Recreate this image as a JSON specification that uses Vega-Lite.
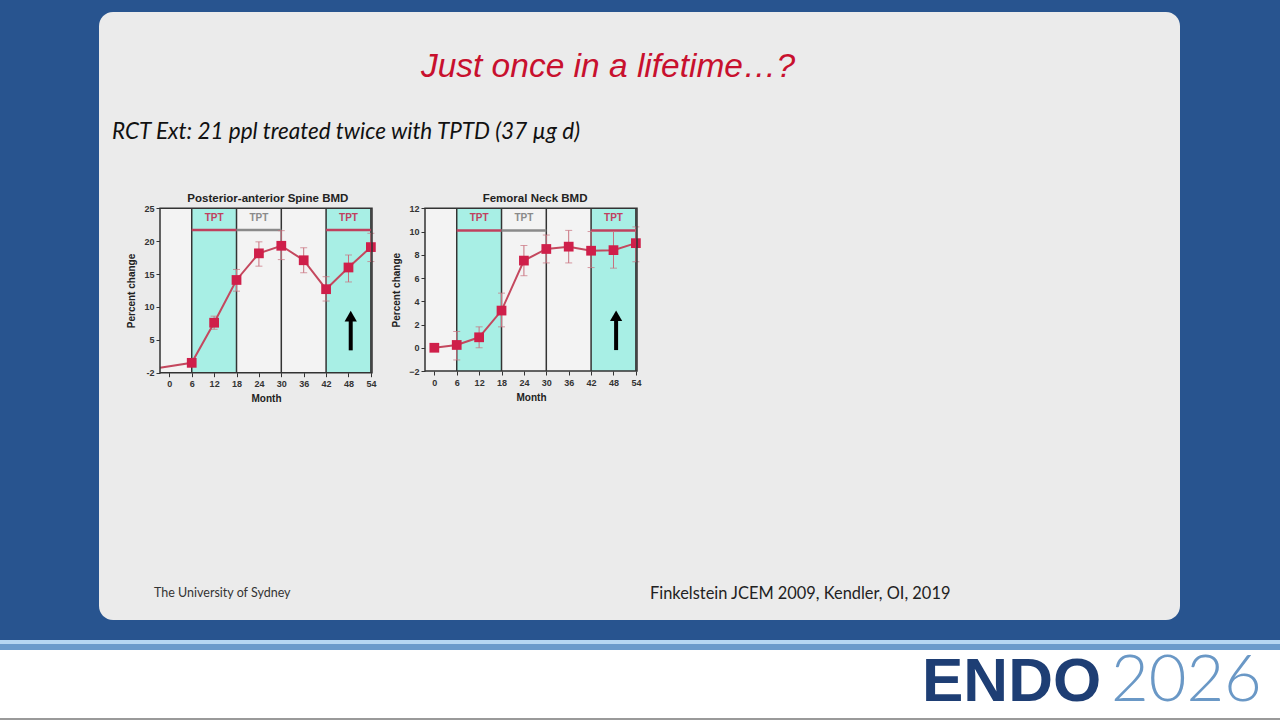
{
  "$schema": "https://vega.github.io/schema/vega-lite/v6.json",
  "width": 1081,
  "height": 608,
  "autosize": {"type": "none"},
  "padding": {"left": 99, "top": 12, "right": 100, "bottom": 100},
  "background": "#28548f",
  "view": {"fill": "#ebebeb", "stroke": null, "cornerRadius": 14},
  "data": {"values": [{}]},
  "datasets": {
    "spine": [
      {"month": -2.5, "pct": 0.75, "lo": null, "hi": null},
      {"month": 6, "pct": 1.5, "lo": null, "hi": null},
      {"month": 12, "pct": 7.6, "lo": 6.6, "hi": 8.6},
      {"month": 18, "pct": 14.1, "lo": 12.4, "hi": 15.7},
      {"month": 24, "pct": 18.15, "lo": 16.2, "hi": 19.9},
      {"month": 30, "pct": 19.3, "lo": 17.2, "hi": 21.6},
      {"month": 36, "pct": 17.1, "lo": 15.2, "hi": 19.0},
      {"month": 42, "pct": 12.7, "lo": 10.9, "hi": 14.6},
      {"month": 48, "pct": 16.0, "lo": 13.8, "hi": 17.9},
      {"month": 54, "pct": 19.1, "lo": 16.9, "hi": 21.2}
    ],
    "femoral": [
      {"month": 0, "pct": 0.0, "lo": null, "hi": null},
      {"month": 6, "pct": 0.24, "lo": -1.05, "hi": 1.4},
      {"month": 12, "pct": 0.9, "lo": 0.0, "hi": 1.8},
      {"month": 18, "pct": 3.2, "lo": 1.8, "hi": 4.7},
      {"month": 24, "pct": 7.5, "lo": 6.2, "hi": 8.8},
      {"month": 30, "pct": 8.5, "lo": 7.3, "hi": 9.7},
      {"month": 36, "pct": 8.7, "lo": 7.3, "hi": 10.1},
      {"month": 42, "pct": 8.35, "lo": 6.9, "hi": 10.0},
      {"month": 48, "pct": 8.4, "lo": 6.85, "hi": 10.0},
      {"month": 54, "pct": 9.0, "lo": 7.4, "hi": 10.4}
    ],
    "periods": [
      {"start": 6, "end": 18, "mid": 12, "label": "TPT", "course": "on"},
      {"start": 18, "end": 30, "mid": 24, "label": "TPT", "course": "off"},
      {"start": 42, "end": 54, "mid": 48, "label": "TPT", "course": "on"}
    ],
    "bounds": [{"month": 6}, {"month": 18}, {"month": 30}, {"month": 42}, {"month": 54}],
    "spineArrow": [{"month": 48.6, "tail": 3.4, "head": 8.6}],
    "femoralArrow": [{"month": 48.7, "tail": -0.2, "head": 2.75}]
  },
  "layer": [
    {"mark": {"type": "rect", "color": "#b6d7f2"},
     "encoding": {"x": {"value": -99}, "x2": {"value": 1181}, "y": {"value": 628}, "y2": {"value": 632}}},
    {"mark": {"type": "rect", "color": "#6b9bcb"},
     "encoding": {"x": {"value": -99}, "x2": {"value": 1181}, "y": {"value": 632}, "y2": {"value": 638}}},
    {"mark": {"type": "rect", "color": "#ffffff"},
     "encoding": {"x": {"value": -99}, "x2": {"value": 1181}, "y": {"value": 638}, "y2": {"value": 706}}},
    {"mark": {"type": "rect", "color": "#9a9a9a"},
     "encoding": {"x": {"value": -99}, "x2": {"value": 1181}, "y": {"value": 706}, "y2": {"value": 708}}},
    {
      "layer": [
        {"mark": {"type": "rect", "fill": "#f3f3f3"},
         "encoding": {
           "x": {"datum": -2.5, "type": "quantitative",
                 "scale": {"domain": [-2.5, 54.3], "range": [61, 273], "nice": false, "zero": false},
                 "axis": {"orient": "bottom", "offset": -247.3, "values": [0, 6, 12, 18, 24, 30, 36, 42, 48, 54], "title": "Month", "labelPadding": 3, "titlePadding": 5}},
           "x2": {"datum": 54.3},
           "y": {"datum": 0, "type": "quantitative",
                 "scale": {"domain": [0, 25], "range": [360.7, 196.3], "nice": false, "zero": false},
                 "axis": {"orient": "left", "offset": -61, "values": [0, 5, 10, 15, 20, 25], "labelExpr": "datum.value == 0 ? '-2' : datum.label", "title": "Percent change", "labelPadding": 2, "titlePadding": 7}},
           "y2": {"datum": 25}
         }},
        {"data": {"name": "periods"}, "transform": [{"filter": "datum.course == 'on'"}],
         "mark": {"type": "rect", "fill": "#a8efe5"},
         "encoding": {
           "x": {"field": "start", "type": "quantitative"},
           "x2": {"field": "end"},
           "y": {"datum": 0, "type": "quantitative"},
           "y2": {"datum": 25}
         }},
        {"data": {"name": "bounds"},
         "mark": {"type": "rule", "color": "#333333", "strokeWidth": 1.5},
         "encoding": {
           "x": {"field": "month", "type": "quantitative"},
           "y": {"datum": 0, "type": "quantitative"},
           "y2": {"datum": 25}
         }},
        {"data": {"name": "periods"},
         "mark": {"type": "rule", "strokeWidth": 2.5},
         "encoding": {
           "x": {"field": "start", "type": "quantitative"},
           "x2": {"field": "end"},
           "y": {"datum": 21.7, "type": "quantitative"},
           "color": {"field": "course", "type": "nominal", "scale": {"domain": ["on", "off"], "range": ["#c0405e", "#8a8a8a"]}, "legend": null}
         }},
        {"data": {"name": "periods"},
         "mark": {"type": "text", "fontWeight": "bold", "fontSize": 10, "baseline": "middle"},
         "encoding": {
           "x": {"field": "mid", "type": "quantitative"},
           "y": {"datum": 23.5, "type": "quantitative"},
           "text": {"field": "label"},
           "color": {"field": "course", "type": "nominal", "scale": {"domain": ["on", "off"], "range": ["#c0405e", "#8a8a8a"]}, "legend": null}
         }},
        {"data": {"name": "spine"}, "transform": [{"filter": "datum.lo != null"}],
         "mark": {"type": "rule", "color": "#c9707e", "strokeWidth": 1},
         "encoding": {
           "x": {"field": "month", "type": "quantitative"},
           "y": {"field": "lo", "type": "quantitative"},
           "y2": {"field": "hi"}
         }},
        {"data": {"name": "spine"}, "transform": [{"filter": "datum.lo != null"}],
         "mark": {"type": "tick", "orient": "horizontal", "size": 7, "thickness": 1, "color": "#c9707e"},
         "encoding": {
           "x": {"field": "month", "type": "quantitative"},
           "y": {"field": "lo", "type": "quantitative"}
         }},
        {"data": {"name": "spine"}, "transform": [{"filter": "datum.lo != null"}],
         "mark": {"type": "tick", "orient": "horizontal", "size": 7, "thickness": 1, "color": "#c9707e"},
         "encoding": {
           "x": {"field": "month", "type": "quantitative"},
           "y": {"field": "hi", "type": "quantitative"}
         }},
        {"data": {"name": "spine"},
         "mark": {"type": "line", "color": "#c4485e", "strokeWidth": 2},
         "encoding": {
           "x": {"field": "month", "type": "quantitative"},
           "y": {"field": "pct", "type": "quantitative"}
         }},
        {"data": {"name": "spine"}, "transform": [{"filter": "datum.month >= 0"}],
         "mark": {"type": "point", "shape": "square", "filled": true, "size": 95, "color": "#cf1f4a", "opacity": 1},
         "encoding": {
           "x": {"field": "month", "type": "quantitative"},
           "y": {"field": "pct", "type": "quantitative"}
         }},
        {"data": {"name": "spineArrow"},
         "mark": {"type": "rule", "color": "#000000", "strokeWidth": 4},
         "encoding": {
           "x": {"field": "month", "type": "quantitative"},
           "y": {"field": "tail", "type": "quantitative"},
           "y2": {"field": "head"}
         }},
        {"data": {"name": "spineArrow"},
         "mark": {"type": "point", "shape": "triangle-up", "filled": true, "size": 150, "color": "#000000", "opacity": 1},
         "encoding": {
           "x": {"field": "month", "type": "quantitative"},
           "y": {"field": "head", "type": "quantitative"}
         }},
        {"mark": {"type": "rect", "fill": null, "stroke": "#333333", "strokeWidth": 1.5},
         "encoding": {
           "x": {"datum": -2.5, "type": "quantitative"},
           "x2": {"datum": 54.3},
           "y": {"datum": 0, "type": "quantitative"},
           "y2": {"datum": 25}
         }},
        {"mark": {"type": "text", "text": "Posterior-anterior Spine BMD", "fontWeight": "bold", "fontSize": 11.5, "color": "#222222"},
         "encoding": {
           "x": {"datum": 26.4, "type": "quantitative"},
           "y": {"datum": 26.4, "type": "quantitative"}
         }}
      ]
    },
    {
      "layer": [
        {"mark": {"type": "rect", "fill": "#f3f3f3"},
         "encoding": {
           "x": {"datum": -2.5, "type": "quantitative",
                 "scale": {"domain": [-2.5, 54.3], "range": [326, 538], "nice": false, "zero": false},
                 "axis": {"orient": "bottom", "offset": -249, "values": [0, 6, 12, 18, 24, 30, 36, 42, 48, 54], "title": "Month", "labelPadding": 3, "titlePadding": 5}},
           "x2": {"datum": 54.3},
           "y": {"datum": -2, "type": "quantitative",
                 "scale": {"domain": [-2, 12], "range": [359, 196.3], "nice": false, "zero": false},
                 "axis": {"orient": "left", "offset": -326, "values": [-2, 0, 2, 4, 6, 8, 10, 12], "title": "Percent change", "labelPadding": 2, "titlePadding": 7}},
           "y2": {"datum": 12}
         }},
        {"data": {"name": "periods"}, "transform": [{"filter": "datum.course == 'on'"}],
         "mark": {"type": "rect", "fill": "#a8efe5"},
         "encoding": {
           "x": {"field": "start", "type": "quantitative"},
           "x2": {"field": "end"},
           "y": {"datum": -2, "type": "quantitative"},
           "y2": {"datum": 12}
         }},
        {"data": {"name": "bounds"},
         "mark": {"type": "rule", "color": "#333333", "strokeWidth": 1.5},
         "encoding": {
           "x": {"field": "month", "type": "quantitative"},
           "y": {"datum": -2, "type": "quantitative"},
           "y2": {"datum": 12}
         }},
        {"data": {"name": "periods"},
         "mark": {"type": "rule", "strokeWidth": 2.5},
         "encoding": {
           "x": {"field": "start", "type": "quantitative"},
           "x2": {"field": "end"},
           "y": {"datum": 10.1, "type": "quantitative"},
           "color": {"field": "course", "type": "nominal", "scale": {"domain": ["on", "off"], "range": ["#c0405e", "#8a8a8a"]}, "legend": null}
         }},
        {"data": {"name": "periods"},
         "mark": {"type": "text", "fontWeight": "bold", "fontSize": 10, "baseline": "middle"},
         "encoding": {
           "x": {"field": "mid", "type": "quantitative"},
           "y": {"datum": 11.2, "type": "quantitative"},
           "text": {"field": "label"},
           "color": {"field": "course", "type": "nominal", "scale": {"domain": ["on", "off"], "range": ["#c0405e", "#8a8a8a"]}, "legend": null}
         }},
        {"data": {"name": "femoral"}, "transform": [{"filter": "datum.lo != null"}],
         "mark": {"type": "rule", "color": "#c9707e", "strokeWidth": 1},
         "encoding": {
           "x": {"field": "month", "type": "quantitative"},
           "y": {"field": "lo", "type": "quantitative"},
           "y2": {"field": "hi"}
         }},
        {"data": {"name": "femoral"}, "transform": [{"filter": "datum.lo != null"}],
         "mark": {"type": "tick", "orient": "horizontal", "size": 7, "thickness": 1, "color": "#c9707e"},
         "encoding": {
           "x": {"field": "month", "type": "quantitative"},
           "y": {"field": "lo", "type": "quantitative"}
         }},
        {"data": {"name": "femoral"}, "transform": [{"filter": "datum.lo != null"}],
         "mark": {"type": "tick", "orient": "horizontal", "size": 7, "thickness": 1, "color": "#c9707e"},
         "encoding": {
           "x": {"field": "month", "type": "quantitative"},
           "y": {"field": "hi", "type": "quantitative"}
         }},
        {"data": {"name": "femoral"},
         "mark": {"type": "line", "color": "#c4485e", "strokeWidth": 2},
         "encoding": {
           "x": {"field": "month", "type": "quantitative"},
           "y": {"field": "pct", "type": "quantitative"}
         }},
        {"data": {"name": "femoral"},
         "mark": {"type": "point", "shape": "square", "filled": true, "size": 95, "color": "#cf1f4a", "opacity": 1},
         "encoding": {
           "x": {"field": "month", "type": "quantitative"},
           "y": {"field": "pct", "type": "quantitative"}
         }},
        {"data": {"name": "femoralArrow"},
         "mark": {"type": "rule", "color": "#000000", "strokeWidth": 4},
         "encoding": {
           "x": {"field": "month", "type": "quantitative"},
           "y": {"field": "tail", "type": "quantitative"},
           "y2": {"field": "head"}
         }},
        {"data": {"name": "femoralArrow"},
         "mark": {"type": "point", "shape": "triangle-up", "filled": true, "size": 150, "color": "#000000", "opacity": 1},
         "encoding": {
           "x": {"field": "month", "type": "quantitative"},
           "y": {"field": "head", "type": "quantitative"}
         }},
        {"mark": {"type": "rect", "fill": null, "stroke": "#333333", "strokeWidth": 1.5},
         "encoding": {
           "x": {"datum": -2.5, "type": "quantitative"},
           "x2": {"datum": 54.3},
           "y": {"datum": -2, "type": "quantitative"},
           "y2": {"datum": 12}
         }},
        {"mark": {"type": "text", "text": "Femoral Neck BMD", "fontWeight": "bold", "fontSize": 11.5, "color": "#222222"},
         "encoding": {
           "x": {"datum": 27, "type": "quantitative"},
           "y": {"datum": 12.8, "type": "quantitative"}
         }}
      ]
    },
    {"mark": {"type": "text", "text": "Just once in a lifetime…?", "font": "Liberation Sans", "fontStyle": "italic", "fontSize": 33.5, "color": "#c8102e", "align": "center", "baseline": "alphabetic"},
     "encoding": {"x": {"value": 509}, "y": {"value": 65}}},
    {"mark": {"type": "text", "text": "RCT Ext: 21 ppl treated twice with TPTD (37 µg d)", "font": "Lato", "fontStyle": "italic", "fontSize": 22.5, "color": "#111111", "align": "left", "baseline": "alphabetic"},
     "encoding": {"x": {"value": 13}, "y": {"value": 127}}},
    {"mark": {"type": "text", "text": "The University of Sydney", "font": "Lato", "fontSize": 12.5, "color": "#333333", "align": "left", "baseline": "alphabetic"},
     "encoding": {"x": {"value": 55}, "y": {"value": 585}}},
    {"mark": {"type": "text", "text": "Finkelstein JCEM 2009, Kendler, OI, 2019", "font": "Lato", "fontSize": 16.4, "color": "#222222", "align": "left", "baseline": "alphabetic"},
     "encoding": {"x": {"value": 551}, "y": {"value": 587}}},
    {"mark": {"type": "text", "text": "ENDO", "font": "Liberation Sans", "fontWeight": "bold", "fontSize": 62, "color": "#1e3e74", "align": "left", "baseline": "alphabetic"},
     "encoding": {"x": {"value": 823}, "y": {"value": 689}}},
    {"mark": {"type": "text", "text": "2026", "font": "Lato", "fontWeight": 300, "fontSize": 65, "color": "#6a98c6", "align": "left", "baseline": "alphabetic"},
     "encoding": {"x": {"value": 1012}, "y": {"value": 689}}}
  ],
  "resolve": {"scale": {"x": "independent", "y": "independent"}},
  "config": {
    "axis": {
      "labelFont": "Liberation Sans",
      "labelFontWeight": "bold",
      "labelFontSize": 9,
      "labelColor": "#333333",
      "titleFont": "Liberation Sans",
      "titleFontWeight": "bold",
      "titleFontSize": 10,
      "titleColor": "#222222",
      "tickColor": "#333333",
      "tickSize": 4,
      "grid": false,
      "domain": false,
      "labelFlush": false,
      "labelOverlap": false
    },
    "text": {"font": "Liberation Sans"}
  }
}
